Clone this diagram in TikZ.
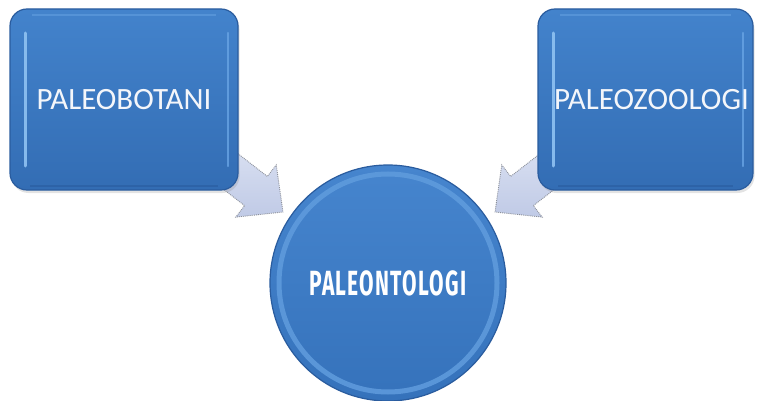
\documentclass[tikz,border=0pt]{standalone}
\usepackage{graphicx}
\usepackage{fontspec}
\setmainfont{Carlito}
\newfontfamily\condfont[LetterSpace=6]{Fira Sans}
\usetikzlibrary{calc,shadows,backgrounds}
\definecolor{boxtop}{HTML}{4383CC}
\definecolor{boxbot}{HTML}{336DB4}
\definecolor{boxedge}{HTML}{2A5C9E}
\definecolor{hilite}{HTML}{8FC2F2}
\definecolor{hilite2}{HTML}{68A4E4}
\definecolor{circtop}{HTML}{4685CE}
\definecolor{circbot}{HTML}{3572BB}
\definecolor{ring}{HTML}{609CDD}
\definecolor{arrtop}{HTML}{D8DFF1}
\definecolor{arrbot}{HTML}{C0CAE6}
\definecolor{arredge}{HTML}{8C9099}
\definecolor{txt}{HTML}{F4F6FA}
\begin{document}
\begin{tikzpicture}[x=1pt,y=-1pt,
  boxstyle/.style={rectangle, rounded corners=17pt, draw=boxedge, line width=1.2pt,
    top color=boxtop, bottom color=boxbot, text=txt, inner sep=0pt,
    font=\fontsize{31}{36}\selectfont,
    drop shadow={shadow xshift=1.5pt, shadow yshift=-3pt, opacity=0.22},
    path picture={
      \draw[hilite, line width=3pt, line cap=round, opacity=0.9]
        ($(path picture bounding box.north west)+(15,24)$) --
        ($(path picture bounding box.south west)+(15,-24)$);
      \draw[hilite2, line width=2.5pt, line cap=round, opacity=0.8]
        ($(path picture bounding box.north east)+(-10,24)$) --
        ($(path picture bounding box.south east)+(-10,-24)$);
      \draw[hilite2, line width=1.5pt, opacity=0.5]
        ($(path picture bounding box.north west)+(22,6)$) --
        ($(path picture bounding box.north east)+(-22,6)$);
      \draw[boxedge, line width=2.5pt, opacity=0.6]
        ($(path picture bounding box.south west)+(20,-4)$) --
        ($(path picture bounding box.south east)+(-20,-4)$);
    }},
  circstyle/.style={circle, minimum size=236pt, inner sep=0pt, draw=boxedge, line width=1.2pt,
    top color=circtop, bottom color=circbot, text=white,
    path picture={
      \draw[ring, line width=5pt, opacity=0.85]
        (path picture bounding box.center) circle [radius=109pt];
    }},
  arrowstyle/.style={top color=arrtop, bottom color=arrbot, draw=arredge,
    densely dotted, line width=0.9pt, line join=miter}
]
\useasboundingbox (0,0) rectangle (757,401);

\node[boxstyle, minimum width=228pt, minimum height=181pt] (pb) at (124,99.5) {PALEOBOTANI};
\node[boxstyle, minimum width=215pt, minimum height=181pt] (pz) at (645.5,99.5)
  {\makebox[0pt]{\hspace*{12pt}PALEOZOOLOGI}};
\node[circstyle] (po) at (388,283)
  {\condfont\bfseries\fontsize{35}{40}\selectfont\scalebox{0.6}[1]{PALEONTOLOGI}};

% arrow end points
\coordinate (lS) at ($(pb.south east)+(-18,-27)$);
\coordinate (lT) at ($(po.center)+(-105,-71)$);
\coordinate (rS) at ($(pz.south west)+(20,-27)$);
\coordinate (rT) at ($(po.center)+(107,-71)$);
\coordinate (lB) at ($(lS)!44.8pt!(lT)$);
\coordinate (rB) at ($(rS)!44.8pt!(rT)$);

\begin{pgfonlayer}{background}
\draw[arrowstyle]
  ($(lS)!18.5pt!90:(lT)$) -- ($(lB)!18.5pt!90:(lT)$) -- ($(lB)!33pt!90:(lT)$) --
  (lT) -- ($(lB)!33pt!-90:(lT)$) -- ($(lB)!18.5pt!-90:(lT)$) --
  ($(lS)!18.5pt!-90:(lT)$) -- cycle;
\draw[arrowstyle]
  ($(rS)!18.5pt!90:(rT)$) -- ($(rB)!18.5pt!90:(rT)$) -- ($(rB)!33pt!90:(rT)$) --
  (rT) -- ($(rB)!33pt!-90:(rT)$) -- ($(rB)!18.5pt!-90:(rT)$) --
  ($(rS)!18.5pt!-90:(rT)$) -- cycle;
\end{pgfonlayer}
\end{tikzpicture}
\end{document}
